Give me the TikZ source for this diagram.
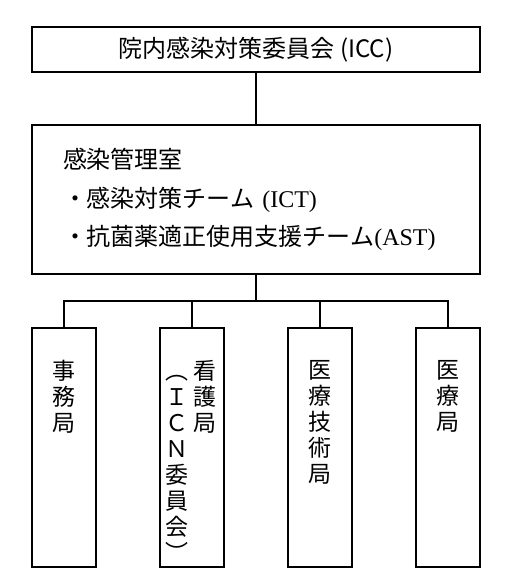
\documentclass[tikz,border=0pt]{standalone}
\usepackage{fontspec}
\setmainfont{Noto Sans CJK JP}
\newfontfamily\romanfont{Liberation Serif}
\usetikzlibrary{positioning}
\tikzset{
	box/.style={draw,rectangle,inner sep=0pt},
	wide/.style={box,minimum width=448pt},
	kyoku/.style={box,minimum width=64pt,minimum height=239pt},
	tate/.style={align=center,inner sep=0pt,anchor=north,font=\fontsize{23pt}{26pt}\selectfont}
}
\begin{document}
\begin{tikzpicture}[x=1pt,y=-1pt,line width=1.6pt]
            \useasboundingbox (0,0) rectangle (520,587);
            \node[wide,minimum height=45pt,font=\fontsize{24pt}{28pt}\selectfont] (icc) at (256,49.5) {院内感染対策委員会 (ICC)};
            \node[wide,minimum height=149pt,text width=386pt,inner xsep=31pt,align=left,font=\fontsize{24pt}{38.5pt}\selectfont] (kanri) at (256,199.5) {感染管理室\\・感染対策チーム {\romanfont(ICT)}\\・抗菌薬適正使用支援チーム{\romanfont(AST)}};
            \node[kyoku] (jimu) at (64,447.5) {};
            \node[kyoku] (kango) at (192,447.5) {};
            \node[kyoku] (gijutsu) at (320,447.5) {};
            \node[kyoku] (iryo) at (448,447.5) {};
            \node[tate] (jimu-t) at ([yshift=-32pt]jimu.north) {事\\務\\局};
            \node[tate] (kango-t) at ([xshift=13pt,yshift=-32pt]kango.north) {看\\護\\局};
            \node[tate] (icn-t) at ([xshift=-15pt,yshift=-32pt]kango.north) {\vphantom{看}︵\\Ｉ\\Ｃ\\Ｎ\\委\\員\\会\\︶};
            \node[tate] (gijutsu-t) at ([yshift=-32pt]gijutsu.north) {医\\療\\技\\術\\局};
            \node[tate] (iryo-t) at ([yshift=-32pt]iryo.north) {医\\療\\局};
            \coordinate (bus) at (256,301);
            \draw (icc) -- (kanri);
            \draw (kanri) -- (bus);
            \draw (jimu) |- (bus) -| (iryo);
            \draw (kango) -- (kango |- bus);
            \draw (gijutsu) -- (gijutsu |- bus);
        \end{tikzpicture}
\end{document}
